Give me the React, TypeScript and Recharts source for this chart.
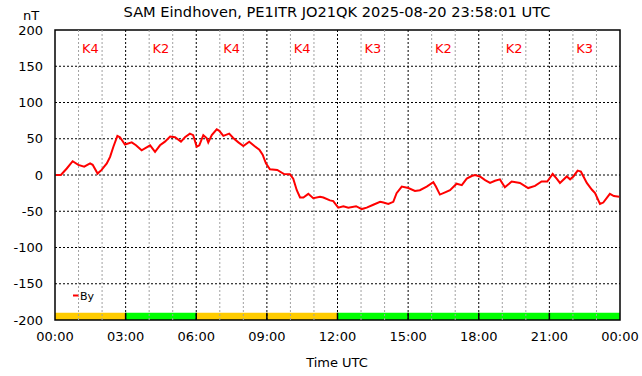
import React from 'react';
import {
  LineChart,
  Line,
  XAxis,
  YAxis,
  ReferenceLine,
  ReferenceArea,
  ReferenceDot,
  Customized,
} from 'recharts';

// time of day in hours (UTC) and By component in nT
const hours = [
  0.04, 0.25, 0.5, 0.75, 0.99, 1.24, 1.49, 1.6, 1.81, 1.98, 2.2, 2.34, 2.48, 2.65, 2.76, 2.97,
  3.26, 3.44, 3.68, 4.04, 4.25, 4.46, 4.67, 4.89, 5.1, 5.35, 5.52, 5.73, 5.87, 6.02, 6.13, 6.3,
  6.44, 6.51, 6.66, 6.87, 6.98, 7.15, 7.4, 7.57, 7.79, 8.0, 8.25, 8.47, 8.68, 8.82, 8.96, 9.13,
  9.44, 9.73, 9.98, 10.12, 10.27, 10.41, 10.55, 10.76, 10.97, 11.26, 11.4, 11.68, 11.82, 12.03,
  12.25, 12.46, 12.79, 13.03, 13.24, 13.52, 13.81, 13.95, 14.16, 14.37, 14.51, 14.73, 15.01,
  15.29, 15.5, 15.79, 16.07, 16.18, 16.35, 16.57, 16.78, 17.06, 17.28, 17.49, 17.7, 17.84,
  18.05, 18.27, 18.48, 18.69, 18.9, 19.11, 19.4, 19.75, 20.1, 20.39, 20.67, 20.91, 21.14,
  21.31, 21.45, 21.74, 21.88, 22.02, 22.2, 22.34, 22.59, 22.8, 22.94, 23.15, 23.29, 23.57,
  23.74, 23.97,
];
const by = [
  0, 0, 9, 19, 14, 11.5, 16, 14, 2, 7, 16, 25, 39, 54, 52, 42,
  45, 41, 34, 41, 32, 41, 46, 53, 52, 46, 52, 57, 55, 39, 41, 55,
  51, 45, 55, 63, 61, 54, 57, 51, 45, 40, 46, 40, 35, 28, 16, 8,
  7, 1.4, 1, -5, -21, -31, -31, -26, -32, -30, -31, -35, -36, -45,
  -43, -45, -43, -47, -45, -41, -37, -38, -40, -37, -25, -16, -18,
  -22, -21, -16, -10, -16, -27, -24, -21, -12, -14, -5, -1.4, 0,
  -2, -7, -11, -8, -6, -17, -9, -11, -18, -15, -9, -9, 1.4,
  -5, -11, -2, -6, -2, 6, 4.6, -11, -20, -25, -40, -38, -26,
  -29, -30,
];

const kIndex = [4, 2, 4, 4, 3, 2, 2, 3];
const xTicks = [0, 3, 6, 9, 12, 15, 18, 21, 24];
const minorX = [1, 2, 4, 5, 7, 8, 10, 11, 13, 14, 16, 17, 19, 20, 22, 23];
const yTicks = [-200, -150, -100, -50, 0, 50, 100, 150, 200];

const data = hours.map((h, i) => ({ h, by: by[i] }));

const font = 'DejaVu Sans';
const kColor = (k: number) => (k >= 4 ? '#ffcc00' : '#00ff00');
const fmtTime = (h: number) => String(h % 24).padStart(2, '0') + ':00';

const Texts = () => (
  <g fontFamily={font} fill="#000">
    <text x={337} y={17} fontSize={14.6} textAnchor="middle">
      SAM Eindhoven, PE1ITR JO21QK 2025-08-20 23:58:01 UTC
    </text>
    <text x={31} y={20} fontSize={13} textAnchor="middle">nT</text>
    <text x={337} y={367} fontSize={13} textAnchor="middle">Time UTC</text>
    <line x1={73} x2={79} y1={295.5} y2={295.5} stroke="#ff0000" strokeWidth={2} />
    <text x={80} y={299.5} fontSize={11}>By</text>
  </g>
);

export default function App() {
  return (
    <div style={{ position: 'absolute', left: 0, top: 0, background: '#fff' }}>
      <LineChart
        width={642}
        height={376}
        data={data}
        margin={{ top: 30, right: 22, left: 0, bottom: 0 }}
      >
        <XAxis
          dataKey="h"
          type="number"
          domain={[0, 24]}
          ticks={xTicks}
          tickFormatter={fmtTime}
          axisLine={false}
          tickLine={false}
          tickSize={0}
          tickMargin={12}
          height={56}
          interval={0}
          tick={{ fill: '#000', fontSize: 13, fontFamily: font }}
        />
        <YAxis
          type="number"
          domain={[-200, 200]}
          ticks={yTicks}
          axisLine={false}
          tickLine={false}
          tickSize={0}
          tickMargin={12}
          width={55}
          interval={0}
          tick={{ fill: '#000', fontSize: 13, fontFamily: font }}
        />
        {minorX.map((x) => (
          <ReferenceLine key={'m' + x} x={x} stroke="#a0a0a0" strokeDasharray="2 2" />
        ))}
        {xTicks.slice(1, -1).map((x) => (
          <ReferenceLine key={'M' + x} x={x} stroke="#000" strokeDasharray="2 2" />
        ))}
        {yTicks.slice(1, -1).map((y) => (
          <ReferenceLine key={'y' + y} y={y} stroke="#000" strokeDasharray="2 2" />
        ))}
        {kIndex.map((k, i) => (
          <ReferenceArea
            key={'b' + i}
            x1={i * 3}
            x2={i * 3 + 3}
            y1={-200}
            y2={-190}
            fill={kColor(k)}
            fillOpacity={1}
            stroke="none"
          />
        ))}
        {xTicks.slice(1, -1).map((x) => (
          <ReferenceLine
            key={'s' + x}
            segment={[{ x, y: -200 }, { x, y: -190 }]}
            stroke="#000"
            strokeWidth={1.5}
          />
        ))}
        <ReferenceArea x1={0} x2={24} y1={-200} y2={200} fill="none" stroke="#000" strokeWidth={1.5} />
        {kIndex.map((k, i) => (
          <ReferenceDot
            key={'k' + i}
            x={i * 3 + 1.5}
            y={174}
            r={0}
            fill="none"
            stroke="none"
            label={{ value: 'K' + k, fill: '#ff0000', fontSize: 13, fontFamily: font, position: 'center' }}
          />
        ))}
        <Line
          type="linear"
          dataKey="by"
          stroke="#ff0000"
          strokeWidth={2}
          dot={false}
          isAnimationActive={false}
        />
        <Customized component={<Texts />} />
      </LineChart>
    </div>
  );
}
